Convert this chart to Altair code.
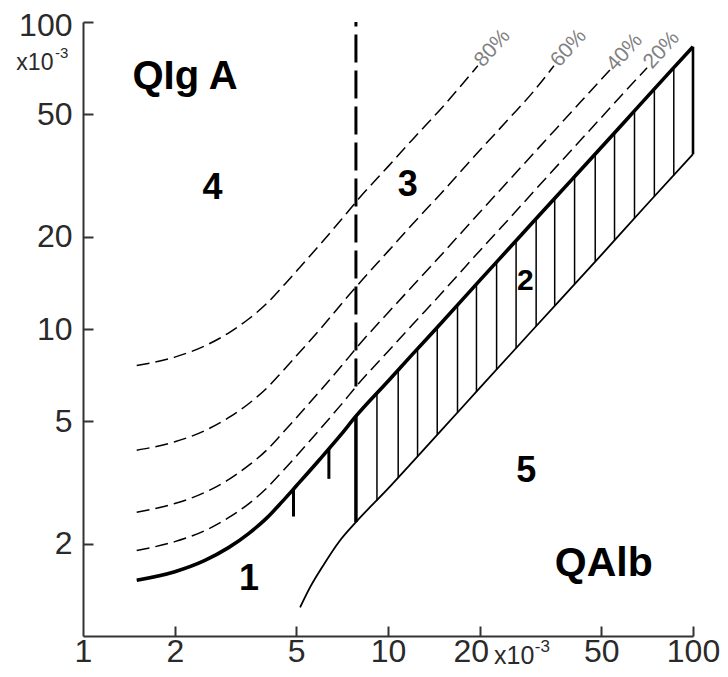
import altair as alt
import pandas as pd

# ---- axis tick values (x and y are quotients x10^-3, log scale) ----
x_tick_values = [1, 2, 5, 10, 20, 50, 100]
y_tick_values = [2, 5, 10, 20, 50, 100]
x_inner_ticks = [2, 5, 10, 20, 50, 100]
y_inner_ticks = [2, 5, 10, 20, 50, 100]

# ---- upper limit curve (thick solid) ----
upper_x = [1.5, 2, 2.5, 3, 3.5, 4, 4.5, 5, 6, 7, 7.85, 10, 12, 15, 20, 25, 30, 40, 50, 60, 70, 85, 100]
upper_y = [1.52, 1.62, 1.76, 1.94, 2.16, 2.42, 2.74, 3.08, 3.78, 4.52, 5.2, 6.76, 8.25, 10.5, 14.4, 18.35,
           22.4, 30.6, 39.0, 47.6, 56.4, 69.7, 83.1]

# ---- lower limit curve (thin solid) ----
lower_x = [5.15, 5.55, 6.16, 6.94, 7.85, 10, 12, 15, 20, 30, 50, 70, 100]
lower_y = [1.24, 1.44, 1.71, 2.04, 2.35, 3.02, 3.68, 4.69, 6.43, 10.0, 17.4, 25.2, 37.1]

# ---- intrathecal fraction lines (dashed) ----
dash20_x = [1.5, 2, 2.5, 3, 3.5, 4, 4.5, 5, 6, 7, 8, 10, 12, 15, 20, 25, 30, 40, 50, 60, 70.7]
dash20_y = [1.9, 2.03, 2.2, 2.43, 2.7, 3.03, 3.43, 3.85, 4.73, 5.65, 6.63, 8.45, 10.3, 13.1, 18.0, 22.9,
            28.0, 38.3, 48.8, 59.5, 71.0]
dash40_x = [1.5, 2, 2.5, 3, 3.5, 4, 4.5, 5, 6, 7, 8, 10, 12, 15, 20, 25, 30, 40, 50, 53.4]
dash40_y = [2.53, 2.7, 2.93, 3.23, 3.6, 4.03, 4.57, 5.13, 6.3, 7.53, 8.83, 11.3, 13.75, 17.5, 24.0, 30.6,
            37.3, 51.0, 65.0, 69.8]
dash60_x = [1.5, 2, 2.5, 3, 3.5, 4, 4.5, 5, 6, 7, 8, 10, 12, 15, 20, 25, 30, 35]
dash60_y = [4.03, 4.29, 4.66, 5.14, 5.72, 6.41, 7.26, 8.16, 10.0, 12.0, 14.0, 17.9, 21.9, 27.8, 38.2, 48.6,
            59.4, 72.0]
dash80_x = [1.5, 2, 2.5, 3, 3.5, 4, 4.5, 5, 6, 7, 8, 10, 12, 15, 19.7]
dash80_y = [7.6, 8.1, 8.8, 9.7, 10.8, 12.1, 13.7, 15.4, 18.9, 22.6, 26.5, 33.8, 41.3, 52.5, 72.0]

pct_labels = ["80%", "60%", "40%", "20%"]
pct_x = [19.8, 35.2, 53.7, 71.0]
pct_y = [73.0, 73.0, 70.8, 72.0]

# ---- hatching of the reference range (vertical strokes) ----
hatch_x = [7.85, 9.2, 10.8, 12.5, 14.5, 16.9, 19.5, 22.7, 26.3, 30.6, 35.2, 40.9, 47.8, 55.3, 64.3, 74.7, 86.5, 100]
hatch_lo = [2.35, 2.76, 3.28, 3.85, 4.52, 5.35, 6.25, 7.37, 8.66, 10.21, 11.9, 14.01, 16.6, 19.46, 22.94,
            27.0, 31.7, 37.1]
hatch_hi = [5.2, 6.17, 7.35, 8.62, 10.13, 11.98, 14.0, 16.52, 19.39, 22.87, 26.65, 31.38, 37.2, 43.6, 51.39,
            60.5, 71.0, 83.1]
hatch_w = [3.5] + [1.5] * 16 + [2.6]

# ---- short strokes below the upper curve ----
stub_x = [4.9, 6.4]
stub_top = [3.02, 4.07]
stub_bot = [2.45, 3.25]

# ---- vertical dashed line (QAlb limit) ----
vline_x = [7.85]
vline_lo = [6.5]
vline_hi = [100]

# ---- annotations ----
ann_text = ["QIg A", "4", "3", "2", "1", "5", "QAlb"]
ann_x = [2.16, 2.66, 11.6, 28.2, 3.5, 28.4, 51.0]
ann_y = [66.0, 28.8, 29.5, 14.3, 1.53, 3.45, 1.72]
ann_size = [40, 36, 36, 30, 36, 36, 41]

unit_text = ["x10", "-3", "x10", "-3"]
unit_x = [0.80, 0.81, 22.26, 30.3]
unit_y = [70.0, 76.3, 0.811, 0.89]
unit_size = [23, 15, 25, 17]
unit_align = ["right", "left", "left", "left"]

FONT = "Liberation Sans"
W, H = 610, 614

xs = alt.Scale(type="log", domain=[1, 100], nice=False)
ys = alt.Scale(type="log", domain=[1, 100], nice=False)

upper_df = pd.DataFrame({"x": upper_x, "y": upper_y})
lower_df = pd.DataFrame({"x": lower_x, "y": lower_y})
dash_df = pd.concat([
    pd.DataFrame({"x": dash20_x, "y": dash20_y, "s": "20"}),
    pd.DataFrame({"x": dash40_x, "y": dash40_y, "s": "40"}),
    pd.DataFrame({"x": dash60_x, "y": dash60_y, "s": "60"}),
    pd.DataFrame({"x": dash80_x, "y": dash80_y, "s": "80"}),
])
hatch_df = pd.DataFrame({"x": hatch_x, "lo": hatch_lo, "hi": hatch_hi, "w": hatch_w})
stub_df = pd.DataFrame({"x": stub_x, "lo": stub_bot, "hi": stub_top})
vline_df = pd.DataFrame({"x": vline_x, "lo": vline_lo, "hi": vline_hi})
pct_df = pd.DataFrame({"t": pct_labels, "x": pct_x, "y": pct_y})
ann_df = pd.DataFrame({"t": ann_text, "x": ann_x, "y": ann_y, "size": ann_size})
unit_df = pd.DataFrame({"t": unit_text, "x": unit_x, "y": unit_y, "size": unit_size, "a": unit_align})

# main axes (labels + domain line)
x_axis = alt.Axis(values=x_tick_values, ticks=False, tickSize=0, grid=False, title=None,
                  labelFont=FONT, labelFontSize=32, labelColor="#2a2a2a", labelPadding=0,
                  labelFlush=False, labelOverlap=False, domainColor="#333", domainWidth=2,
                  labelOffset={"condition": {"test": "datum.value == 20", "value": -9}, "value": 0},
                  format="d")
y_axis = alt.Axis(values=y_tick_values, ticks=False, tickSize=0, grid=False, title=None,
                  labelFont=FONT, labelFontSize=32, labelColor="#2a2a2a", labelPadding=11,
                  labelFlush=False, labelOverlap=False, domainColor="#333", domainWidth=2,
                  labelOffset={"condition": {"test": "datum.value == 100", "value": 3}, "value": 0},
                  format="d")

upper = alt.Chart(upper_df).mark_line(color="black", strokeWidth=3.6, interpolate="monotone").encode(
    x=alt.X("x:Q", scale=xs, axis=x_axis),
    y=alt.Y("y:Q", scale=ys, axis=y_axis),
)

# inward ticks via mirrored axes moved onto the plot edges
tick_layer = alt.Chart(pd.DataFrame({"x": [10], "y": [10]})).mark_point(opacity=0).encode(
    x=alt.X("x:Q", scale=xs, axis=alt.Axis(orient="top", offset=-H, values=x_inner_ticks, labels=False,
                                            domain=False, grid=False, tickSize=10, tickWidth=2,
                                            tickColor="#333", title=None)),
    y=alt.Y("y:Q", scale=ys, axis=alt.Axis(orient="right", offset=-W, values=y_inner_ticks, labels=False,
                                            domain=False, grid=False, tickSize=10, tickWidth=2,
                                            tickColor="#333", title=None)),
)

lower = alt.Chart(lower_df).mark_line(color="black", strokeWidth=1.8, interpolate="monotone").encode(
    x=alt.X("x:Q", scale=xs, axis=None), y=alt.Y("y:Q", scale=ys, axis=None))

dashed = alt.Chart(dash_df).mark_line(color="black", strokeWidth=1.5, strokeDash=[13, 6],
                                      interpolate="monotone").encode(
    x=alt.X("x:Q", scale=xs, axis=None), y=alt.Y("y:Q", scale=ys, axis=None), detail="s:N")

hatch = alt.Chart(hatch_df).mark_rule(color="black").encode(
    x=alt.X("x:Q", scale=xs, axis=None), y=alt.Y("lo:Q", scale=ys, axis=None), y2="hi:Q",
    strokeWidth=alt.StrokeWidth("w:Q", scale=None))

stubs = alt.Chart(stub_df).mark_rule(color="black", strokeWidth=3).encode(
    x=alt.X("x:Q", scale=xs, axis=None), y=alt.Y("lo:Q", scale=ys, axis=None), y2="hi:Q")

vline = alt.Chart(vline_df).mark_rule(color="black", strokeWidth=3, strokeDash=[28, 8]).encode(
    x=alt.X("x:Q", scale=xs, axis=None), y=alt.Y("lo:Q", scale=ys, axis=None), y2="hi:Q")

pct = alt.Chart(pct_df).mark_text(font=FONT, fontSize=21, color="#808080", angle=312, align="left",
                                  baseline="middle").encode(
    x=alt.X("x:Q", scale=xs, axis=None), y=alt.Y("y:Q", scale=ys, axis=None), text="t:N")

ann = alt.Chart(ann_df).mark_text(font=FONT, fontWeight="bold", color="black", align="center",
                                  baseline="middle").encode(
    x=alt.X("x:Q", scale=xs, axis=None), y=alt.Y("y:Q", scale=ys, axis=None), text="t:N",
    size=alt.Size("size:Q", scale=None))

unit_l = alt.Chart(unit_df).transform_filter(alt.datum.a == "left").mark_text(
    font=FONT, color="#2a2a2a", align="left", baseline="alphabetic").encode(
    x=alt.X("x:Q", scale=xs, axis=None), y=alt.Y("y:Q", scale=ys, axis=None), text="t:N",
    size=alt.Size("size:Q", scale=None))
unit_r = alt.Chart(unit_df).transform_filter(alt.datum.a == "right").mark_text(
    font=FONT, color="#2a2a2a", align="right", baseline="alphabetic").encode(
    x=alt.X("x:Q", scale=xs, axis=None), y=alt.Y("y:Q", scale=ys, axis=None), text="t:N",
    size=alt.Size("size:Q", scale=None))

chart = alt.layer(
    upper, tick_layer, lower, dashed, hatch, stubs, vline, pct, ann, unit_l, unit_r
).resolve_axis(x="independent", y="independent").properties(
    width=W, height=H,
    autosize=alt.AutoSizeParams(type="none"),
    padding={"left": 75, "top": 14, "right": 27, "bottom": 33},
    background="white",
).configure_view(stroke=None)

chart.save("out.html", embed_options={"renderer": "svg", "actions": False})
